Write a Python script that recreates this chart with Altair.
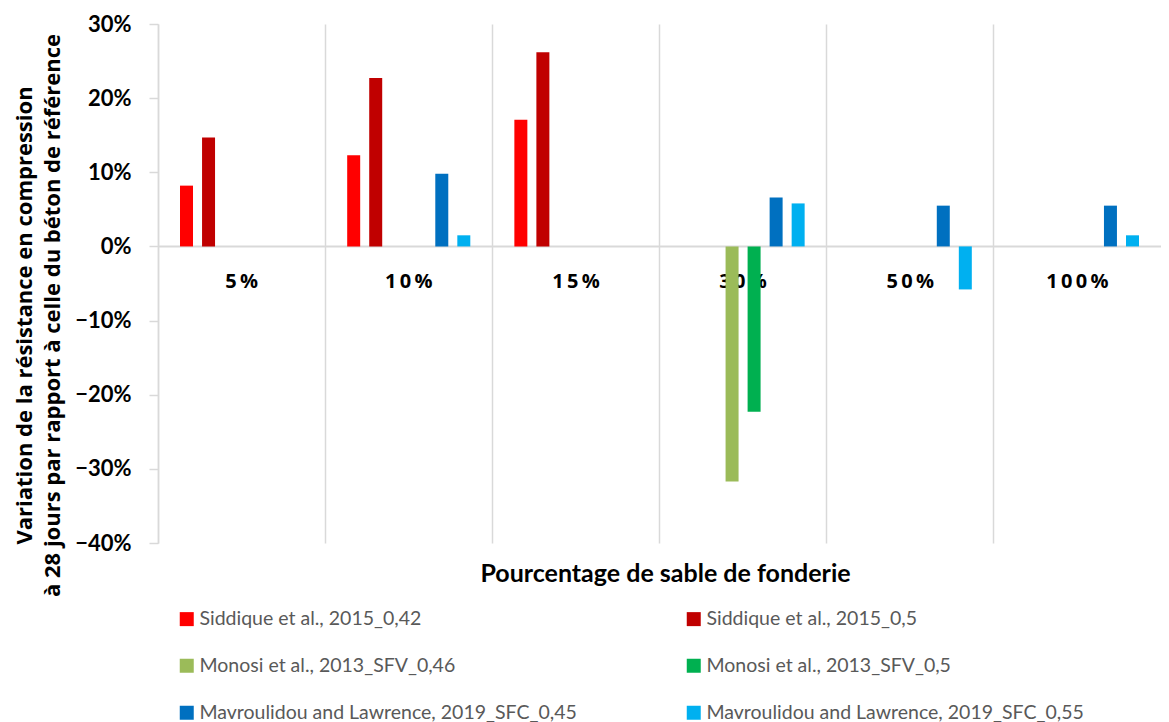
import altair as alt
import pandas as pd

categories = ["5%", "10%", "15%", "30%", "50%", "100%"]
series = [
    "Siddique et al., 2015_0,42",
    "Siddique et al., 2015_0,5",
    "Monosi et al., 2013_SFV_0,46",
    "Monosi et al., 2013_SFV_0,5",
    "Mavroulidou and Lawrence, 2019_SFC_0,45",
    "Mavroulidou and Lawrence, 2019_SFC_0,55",
]
colors = ["#FF0000", "#C00000", "#9BBB59", "#00B050", "#0070C0", "#00B0F0"]

siddique_042 = [0.082, 0.123, 0.171, None, None, None]
siddique_05 = [0.147, 0.227, 0.262, None, None, None]
monosi_046 = [None, None, None, -0.317, None, None]
monosi_05 = [None, None, None, -0.223, None, None]
mavroulidou_045 = [None, 0.098, None, 0.066, 0.055, 0.055]
mavroulidou_055 = [None, 0.015, None, 0.058, -0.058, 0.015]

all_values = [siddique_042, siddique_05, monosi_046, monosi_05, mavroulidou_045, mavroulidou_055]

rows = []
for s, vals in zip(series, all_values):
    for c, v in zip(categories, vals):
        if v is not None:
            rows.append({"cat": c, "series": s, "value": v})
df = pd.DataFrame(rows)

y_ticks = [-0.4, -0.3, -0.2, -0.1, 0.0, 0.1, 0.2, 0.3]

chart = alt.Chart(df).mark_bar().encode(
    x=alt.X(
        "cat:N",
        sort=categories,
        scale=alt.Scale(domain=categories, paddingInner=0, paddingOuter=0),
        axis=alt.Axis(
            title="Pourcentage de sable de fonderie",
            titleFont="Lato",
            titleFontSize=25,
            titleFontWeight="bold",
            titleColor="#000000",
            titleY=18,
            titleX=507,
            labelFont="Open Sans",
            labelFontSize=20,
            labelFontWeight="bold",
            labelColor="#000000",
            labelAngle=0,
            labelPadding=-272,
            labelExpr="join(split(datum.label, ''), '\u2009')",
            ticks=False,
            domain=False,
            grid=True,
            bandPosition=0,
            gridColor="#D9D9D9",
            gridWidth=1.5,
        ),
    ),
    xOffset=alt.XOffset(
        "series:N",
        sort=series,
        scale=alt.Scale(domain=series, paddingInner=0.41, paddingOuter=1),
    ),
    y=alt.Y(
        "value:Q",
        scale=alt.Scale(domain=[-0.4, 0.3], nice=False),
        axis=alt.Axis(
            values=y_ticks,
            format=".0%",
            title=[
                "Variation de la résistance  en compression",
                "à 28 jours par rapport à celle du béton de référence",
            ],
            titleFont="Open Sans",
            titleFontSize=22,
            titleFontWeight="bold",
            titleColor="#000000",
            titleLineHeight=28,
            titlePadding=10,
            titleY=291,
            labelFont="Lato",
            labelFontSize=22,
            labelFontWeight="bold",
            labelColor="#000000",
            labelPadding=18,
            tickSize=9,
            tickColor="#D9D9D9",
            tickWidth=1.5,
            domainColor="#D9D9D9",
            domainWidth=1.5,
            grid=True,
            gridColor="#D9D9D9",
            gridWidth=2,
            gridOpacity=alt.ExprRef("datum.value == 0 ? 1 : 0"),
        ),
    ),
    color=alt.Color(
        "series:N",
        sort=series,
        scale=alt.Scale(domain=series, range=colors),
        legend=alt.Legend(
            title=None,
            orient="none",
            direction="horizontal",
            legendX=19,
            legendY=585,
            columns=2,
            columnPadding=107,
            rowPadding=26,
            symbolType="square",
            symbolSize=196,
            symbolStrokeWidth=0,
            labelFont="Lato",
            labelFontSize=19.5,
            labelColor="#595959",
            labelOffset=3,
            labelLimit=500,
        ),
    ),
).properties(
    width=1003,
    height=519,
    padding={"left": 150, "top": 16, "right": 0, "bottom": 180},
    autosize=alt.AutoSizeParams(type="none"),
).configure_view(stroke=None)

chart.save("out.html", embed_options={"renderer": "svg", "actions": False})
